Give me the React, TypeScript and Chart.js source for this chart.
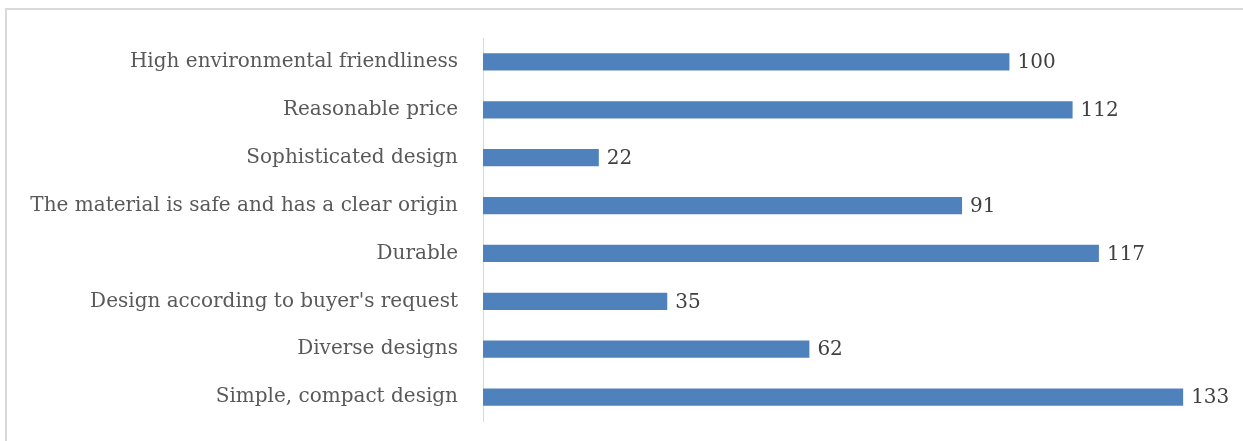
import React, { useEffect, useRef } from "react";
import { Chart, registerables } from "chart.js";

Chart.register(...registerables);

const categories = [
  "High environmental friendliness",
  "Reasonable price",
  "Sophisticated design",
  "The material is safe and has a clear origin",
  "Durable",
  "Design according to buyer's request",
  "Diverse designs",
  "Simple, compact design",
];
const counts = [100, 112, 22, 91, 117, 35, 62, 133];
const axisMax = 140;

const FONT = "'DejaVu Serif', serif";

const valueLabels = {
  id: "valueLabels",
  afterDatasetsDraw(chart: any) {
    const { ctx } = chart;
    const meta = chart.getDatasetMeta(0);
    ctx.save();
    ctx.font = `20px ${FONT}`;
    ctx.fillStyle = "#404040";
    ctx.textAlign = "left";
    ctx.textBaseline = "middle";
    meta.data.forEach((bar: any, i: number) => {
      ctx.fillText(String(counts[i]), bar.x + 8, bar.y + 1);
    });
    ctx.restore();
  },
};

export default function App() {
  const ref = useRef<HTMLCanvasElement | null>(null);
  useEffect(() => {
    if (!ref.current) return;
    const chart = new Chart(ref.current, {
      type: "bar",
      data: {
        labels: categories,
        datasets: [
          {
            data: counts,
            backgroundColor: "#4F81BD",
            borderWidth: 0,
            barPercentage: 0.36,
            categoryPercentage: 1,
          },
        ],
      },
      options: {
        indexAxis: "y",
        animation: false,
        responsive: false,
        maintainAspectRatio: false,
        layout: { padding: { top: 38, bottom: 20, right: 23, left: 0 } },
        plugins: { legend: { display: false }, tooltip: { enabled: false }, title: { display: false } },
        scales: {
          x: { display: false, min: 0, max: axisMax },
          y: {
            afterFit(scale: any) {
              scale.width = 483;
              scale.paddingTop = 0;
              scale.paddingBottom = 0;
            },
            grid: { display: false, drawTicks: false },
            border: { display: true, color: "#d9d9d9", width: 1 },
            ticks: {
              padding: 25,
              color: "#595959",
              font: { family: FONT, size: 20 },
              autoSkip: false,
            },
          },
        },
      },
      plugins: [valueLabels],
    });
    return () => chart.destroy();
  }, []);
  return (
    <div style={{ position: "absolute", left: 0, top: 0, width: 1243, height: 441, overflow: "hidden", background: "#fff" }}>
      <div style={{ position: "absolute", left: 5, top: 8, width: 1238, height: 2, background: "#d9d9d9" }} />
      <div style={{ position: "absolute", left: 5, top: 8, width: 2, height: 433, background: "#d9d9d9" }} />
      <canvas ref={ref} width={1243} height={441} style={{ position: "absolute", left: 0, top: 0 }} />
    </div>
  );
}
